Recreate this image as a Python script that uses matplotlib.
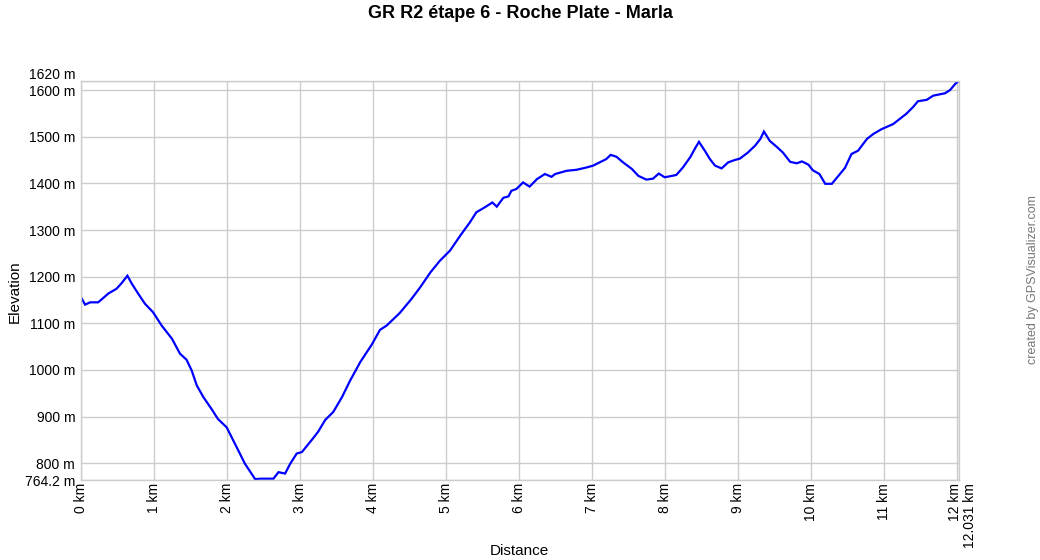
import numpy as np
import matplotlib
matplotlib.use("Agg")
import matplotlib.pyplot as plt
import matplotlib.transforms as mtransforms

plt.rcParams['font.family'] = ['Liberation Sans', 'DejaVu Sans']

# distance (km) / elevation (m)
dist = np.array([
    0.00, 0.06, 0.13, 0.24, 0.38, 0.49, 0.56, 0.64, 0.70, 0.79, 0.88, 0.99,
    1.11, 1.25, 1.36, 1.45, 1.52, 1.59, 1.68, 1.79, 1.88, 2.00, 2.09, 2.18,
    2.25, 2.39, 2.46, 2.64, 2.71, 2.80, 2.87, 2.96, 3.03, 3.16, 3.25, 3.35,
    3.46, 3.58, 3.69, 3.83, 3.99, 4.10, 4.19, 4.37, 4.53, 4.65, 4.79, 4.92,
    5.06, 5.20, 5.33, 5.42, 5.54, 5.64, 5.70, 5.79, 5.86, 5.90, 5.97, 6.06,
    6.15, 6.25, 6.36, 6.45, 6.50, 6.66, 6.79, 6.93, 7.02, 7.11, 7.20, 7.26,
    7.34, 7.43, 7.55, 7.64, 7.75, 7.84, 7.92, 8.00, 8.10, 8.16, 8.25, 8.35,
    8.42, 8.47, 8.55, 8.62, 8.69, 8.78, 8.87, 8.96, 9.03, 9.14, 9.24, 9.31,
    9.36, 9.44, 9.53, 9.62, 9.72, 9.81, 9.88, 9.97, 10.03, 10.12, 10.20,
    10.29, 10.38, 10.47, 10.56, 10.65, 10.77, 10.86, 10.97, 11.13, 11.31,
    11.40, 11.47, 11.59, 11.68, 11.84, 11.91, 11.98, 12.031,
])
elev = np.array([
    1157, 1140, 1145, 1145, 1164, 1174, 1186, 1202, 1185, 1163, 1142, 1124,
    1095, 1067, 1035, 1022, 999, 967, 942, 917, 895, 877, 849, 821,
    799, 766, 767, 767, 781, 778, 799, 821, 824, 849, 867, 893,
    910, 942, 977, 1017, 1055, 1086, 1095, 1122, 1152, 1177, 1209, 1234,
    1256, 1288, 1316, 1338, 1349, 1359, 1350, 1369, 1372, 1384, 1388, 1402,
    1393, 1409, 1420, 1414, 1420, 1427, 1429, 1434, 1438, 1445, 1452, 1461,
    1457, 1445, 1431, 1416, 1408, 1410, 1421, 1413, 1416, 1418, 1434, 1456,
    1476, 1489, 1470, 1452, 1438, 1432, 1445, 1450, 1453, 1466, 1481, 1495,
    1511, 1491, 1479, 1466, 1446, 1443, 1447, 1440, 1428, 1420, 1399,
    1399, 1416, 1433, 1463, 1470, 1495, 1506, 1516, 1527, 1549,
    1563, 1576, 1579, 1588, 1593, 1600, 1613, 1620,
])

title = "GR R2 étape 6 - Roche Plate - Marla"
x_ticks = list(range(0, 13)) + [12.031]
x_labels = [f"{k} km" for k in range(0, 13)] + ["12.031 km"]
y_ticks = [764.2, 800, 900, 1000, 1100, 1200, 1300, 1400, 1500, 1600, 1620]
y_labels = ["764.2 m"] + [f"{v} m" for v in y_ticks[1:]]

fig = plt.figure(figsize=(10.4, 5.6), dpi=100)
ax = fig.add_axes([80.7 / 1040, 1 - 480 / 560, (958.9 - 80.7) / 1040, (480 - 80.7) / 560])

ax.plot(dist, elev, color="#0000ff", lw=1.6, solid_joinstyle="miter")
ax.set_xlim(0, 12.031)
ax.set_ylim(764.2, 1620)

ax.set_xticks(x_ticks)
ax.set_xticklabels(x_labels, rotation=90, fontsize=10)
ax.set_yticks(y_ticks)
ax.set_yticklabels(y_labels, fontsize=10)
ax.tick_params(axis="y", length=0, pad=4)
ax.tick_params(axis="x", length=0, pad=2)
ax.grid(True, color="#cccccc", lw=1)
ax.set_axisbelow(True)
for s in ax.spines.values():
    s.set_color("#cccccc")
    s.set_linewidth(1)

# nudge crowded labels apart like the original
def shift(lab, dx, dy):
    lab.set_transform(lab.get_transform() +
                      mtransforms.ScaledTranslation(dx / 100, dy / 100, fig.dpi_scale_trans))

xl = ax.get_xticklabels()
shift(xl[-1], 11, 0)
shift(xl[-2], -2, 0)
yl = ax.get_yticklabels()
shift(yl[-1], 0, 7)
shift(yl[-2], 0, 0)

fig.text(520 / 1040, 1 - 14 / 560, title, ha="center", va="center",
         fontsize=13, fontweight="bold")
fig.text(15 / 1040, 1 - 292 / 560, "Elevation", rotation=90, ha="center",
         va="center", fontsize=11)
fig.text(519 / 1040, 1 - 551 / 560, "Distance", ha="center", va="center",
         fontsize=11)
fig.text(1033 / 1040, 1 - 280 / 560, "created by GPSVisualizer.com", rotation=90,
         ha="center", va="center", fontsize=9, color="#777777")

fig.savefig("out.png", dpi=100)
